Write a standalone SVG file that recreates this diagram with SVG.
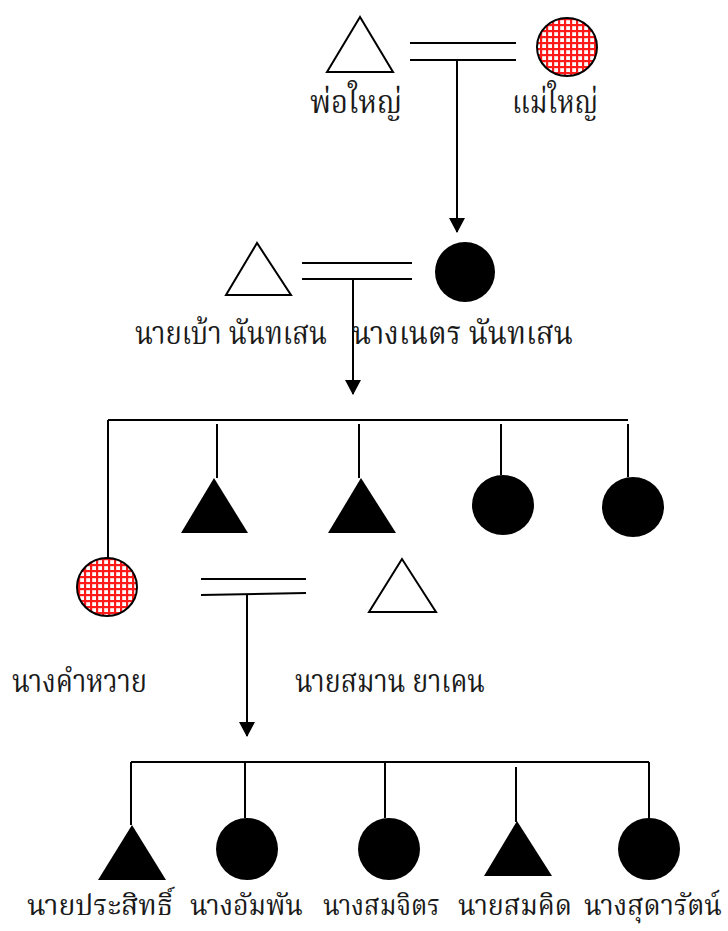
<svg xmlns="http://www.w3.org/2000/svg" width="728" height="931" viewBox="0 0 728 931">
  <style>
    .outline { fill: #fff; stroke: #000; stroke-width: 2; }
    .solid { fill: #000; stroke: none; }
    .grid { fill: url(#redGrid); stroke: #000; stroke-width: 2; }
    .line { fill: none; stroke: #000; stroke-width: 2; }
    .arrow { fill: none; stroke: #000; stroke-width: 2; marker-end: url(#arrowHead); }
    .label { font-family: "Noto Serif Thai", "Noto Sans Thai", "Loma", "Garuda", "Noto Sans", "DejaVu Sans", sans-serif; font-size: 32px; fill: #1a1a1a; }
    .bottom { font-size: 28px; }
  </style>
  <defs>
    <pattern id="redGrid" width="6" height="6" patternUnits="userSpaceOnUse">
      <rect width="6" height="6" fill="#fff"/>
      <rect x="0" y="0" width="6" height="2.2" fill="#ff1a1a"/>
      <rect x="0" y="0" width="2.2" height="6" fill="#ff1a1a"/>
    </pattern>
    <marker id="arrowHead" markerWidth="15" markerHeight="16" refX="14" refY="8" orient="auto" markerUnits="userSpaceOnUse">
      <path d="M0,0 L15,8 L0,16 Z" fill="#000"/>
    </marker>
  </defs>

  <!-- connectors -->
  <g id="connectors">
    <!-- grandparents marriage -->
    <path class="line" d="M410,43 H516 M410,60 H516"/>
    <path class="arrow" d="M457,60 V232"/>
    <!-- parents marriage -->
    <path class="line" d="M302,263 H412 M302,279 H412"/>
    <path class="arrow" d="M353,279 V394"/>
    <!-- children of Bao and Net -->
    <path class="line" d="M108,420 H628 M108,420 V558"/>
    <path class="line" d="M217,424 V478 M359,424 V478 M501,424 V475 M628,424 V477"/>
    <!-- Khamwai and Saman marriage -->
    <path class="line" d="M201,579 H306 M201,595 L306,593"/>
    <path class="arrow" d="M247,594 V736"/>
    <!-- grandchildren -->
    <path class="line" d="M131,762 H649 M131,762 V825"/>
    <path class="line" d="M245,762 V818 M385,762 V818 M516,767 V822 M649,762 V818"/>
  </g>

  <!-- generation 1 -->
  <g id="grandfather">
    <polygon class="outline" points="360,17 327,72 393,72"/>
    <text class="label" x="310" y="113" textLength="92" lengthAdjust="spacingAndGlyphs">พ่อใหญ่</text>
  </g>
  <g id="grandmother">
    <ellipse class="grid" cx="567" cy="47" rx="30" ry="29"/>
    <text class="label" x="512" y="113" textLength="86" lengthAdjust="spacingAndGlyphs">แม่ใหญ่</text>
  </g>

  <!-- generation 2 -->
  <g id="nai-bao">
    <polygon class="outline" points="257,243 226,295 291,295"/>
    <text class="label" x="135" y="344" textLength="192" lengthAdjust="spacingAndGlyphs">นายเบ้า นันทเสน</text>
  </g>
  <g id="nang-net">
    <ellipse class="solid" cx="465" cy="272" rx="30" ry="30"/>
    <text class="label" x="352" y="344" textLength="221" lengthAdjust="spacingAndGlyphs">นางเนตร นันทเสน</text>
  </g>

  <!-- generation 3 -->
  <g id="nang-khamwai">
    <ellipse class="grid" cx="107" cy="587" rx="30" ry="29"/>
    <text class="label" x="12" y="692" textLength="135" lengthAdjust="spacingAndGlyphs">นางคำหวาย</text>
  </g>
  <g id="sibling-1">
    <polygon class="solid" points="214,478 181,533 248,533"/>
  </g>
  <g id="sibling-2">
    <polygon class="solid" points="361,478 328,533 396,533"/>
  </g>
  <g id="sibling-3">
    <ellipse class="solid" cx="503" cy="505" rx="31" ry="30"/>
  </g>
  <g id="sibling-4">
    <ellipse class="solid" cx="633" cy="507" rx="31" ry="30"/>
  </g>
  <g id="nai-saman">
    <polygon class="outline" points="402,559 369,612 436,612"/>
    <text class="label" x="295" y="692" textLength="190" lengthAdjust="spacingAndGlyphs">นายสมาน ยาเคน</text>
  </g>

  <!-- generation 4 -->
  <g id="nai-prasit">
    <polygon class="solid" points="132,825 98,880 166,880"/>
    <text class="label bottom" x="27" y="915" textLength="146" lengthAdjust="spacingAndGlyphs">นายประสิทธิ์</text>
  </g>
  <g id="nang-amphan">
    <ellipse class="solid" cx="247" cy="849" rx="31" ry="31"/>
    <text class="label bottom" x="190" y="915" textLength="113" lengthAdjust="spacingAndGlyphs">นางอัมพัน</text>
  </g>
  <g id="nang-somjit">
    <ellipse class="solid" cx="389" cy="849" rx="31" ry="31"/>
    <text class="label bottom" x="323" y="915" textLength="117" lengthAdjust="spacingAndGlyphs">นางสมจิตร</text>
  </g>
  <g id="nai-somkhit">
    <polygon class="solid" points="517,821 484,876 552,876"/>
    <text class="label bottom" x="458" y="915" textLength="114" lengthAdjust="spacingAndGlyphs">นายสมคิด</text>
  </g>
  <g id="nang-sudarat">
    <ellipse class="solid" cx="649" cy="849" rx="31" ry="31"/>
    <text class="label bottom" x="584" y="915" textLength="138" lengthAdjust="spacingAndGlyphs">นางสุดารัตน์</text>
  </g>
</svg>
